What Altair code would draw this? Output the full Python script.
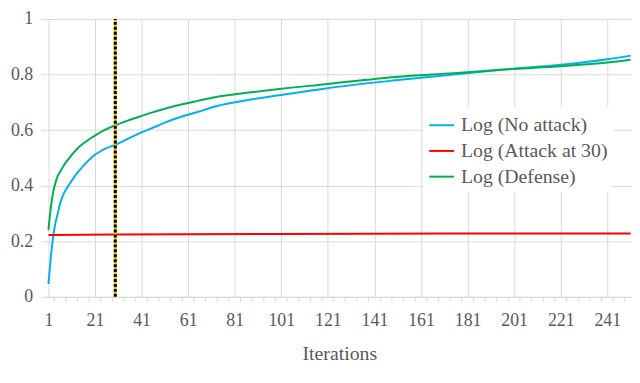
import altair as alt
import pandas as pd

# ---- data ----
series_names = ["Log (No attack)", "Log (Attack at 30)", "Log (Defense)"]
series_colors = ["#00B0F0", "#FF0000", "#00B050"]

iters_no_attack = [1, 2, 3, 4, 5, 6, 7, 8, 10, 12, 14, 17, 20, 23, 26, 30, 35, 40, 45, 51,
                   58, 65, 73, 86, 100, 120, 150, 175, 200, 221, 241, 251]
vals_no_attack = [0.046, 0.14, 0.215, 0.265, 0.30, 0.335, 0.36, 0.378, 0.405, 0.43, 0.452,
                  0.48, 0.505, 0.522, 0.535, 0.548, 0.568, 0.588, 0.605, 0.627,
                  0.648, 0.665, 0.686, 0.707, 0.725, 0.75, 0.779, 0.80, 0.82, 0.835, 0.855, 0.868]

iters_attack = [1, 30, 100, 175, 251]
vals_attack = [0.222, 0.224, 0.226, 0.228, 0.228]

iters_defense = [1, 2, 3, 4, 5, 6, 8, 10, 14, 17, 20, 25, 30, 35, 40, 45, 51, 58, 65, 73,
                 86, 100, 120, 150, 175, 200, 221, 241, 251]
vals_defense = [0.24, 0.32, 0.375, 0.41, 0.435, 0.45, 0.478, 0.50, 0.538, 0.558, 0.575,
                0.60, 0.618, 0.634, 0.648, 0.662, 0.677, 0.692, 0.705, 0.719,
                0.734, 0.748, 0.765, 0.791, 0.805, 0.82, 0.83, 0.843, 0.853]

grid_x = list(range(1, 252, 5))
tick_x = [v + 2.5 for v in grid_x[:-1]]
y_ticks = [0, 0.2, 0.4, 0.6, 0.8, 1]
attack_x = [29.7]

rows = []
for it, v in zip(iters_no_attack, vals_no_attack):
    rows.append({"iter": it, "val": v, "series": series_names[0]})
for it, v in zip(iters_attack, vals_attack):
    rows.append({"iter": it, "val": v, "series": series_names[1]})
for it, v in zip(iters_defense, vals_defense):
    rows.append({"iter": it, "val": v, "series": series_names[2]})
df = pd.DataFrame(rows)

W, H = 592, 281
FONT = "Liberation Serif"
GRID = "#d9d9d9"
TXT = "#595959"

x_scale = alt.Scale(domain=[0.2, 251.6], nice=False, zero=False)
y_scale = alt.Scale(domain=[0, 1], nice=False, zero=False)

label_expr = "(datum.value - 1) % 20 == 0 ? datum.label : ''"

lines = alt.Chart(df).mark_line(interpolate="monotone", strokeWidth=2, clip=True).encode(
    x=alt.X("iter:Q", scale=x_scale,
            axis=alt.Axis(values=grid_x, labelExpr=label_expr, labelOverlap=False,
                          labelFlush=False, ticks=False, tickSize=0, grid=True,
                          gridColor=GRID, domainColor=GRID, labelPadding=15,
                          labelFont=FONT, labelFontSize=18, labelColor=TXT,
                          title="Iterations", titleFont=FONT, titleFontSize=20,
                          titleFontWeight="normal", titleColor=TXT, titleY=63,
                          titleBaseline="alphabetic")),
    y=alt.Y("val:Q", scale=y_scale,
            axis=alt.Axis(values=y_ticks, format="~g", tickSize=6, tickColor=GRID,
                          domain=False, grid=True, gridColor=GRID, labelPadding=8,
                          labelFont=FONT, labelFontSize=18, labelColor=TXT,
                          title=None)),
    color=alt.Color("series:N",
                    scale=alt.Scale(domain=series_names, range=series_colors),
                    sort=series_names,
                    legend=alt.Legend(title=None, orient="none", legendX=381, legendY=89,
                                      fillColor="white", padding=5, symbolType="stroke",
                                      symbolSize=625, symbolStrokeWidth=2,
                                      labelFont=FONT, labelFontSize=20, labelColor=TXT,
                                      rowPadding=2, labelOffset=6, labelLimit=300)),
    detail="series:N",
)

ticks = alt.Chart(pd.DataFrame({"tx": tick_x})).mark_rule(color=GRID, strokeWidth=1).encode(
    x=alt.X("tx:Q", scale=x_scale),
    y=alt.value(H),
    y2=alt.value(H + 5),
)

vline_df = pd.DataFrame({"ax": attack_x})
vline_yellow = alt.Chart(vline_df).mark_rule(color="#F5C400", strokeWidth=3).encode(
    x=alt.X("ax:Q", scale=x_scale),
    y=alt.datum(0, scale=y_scale),
    y2=alt.datum(1),
)
vline_black = alt.Chart(vline_df).mark_rule(color="black", strokeWidth=3,
                                            strokeDash=[3, 2]).encode(
    x=alt.X("ax:Q", scale=x_scale),
    y=alt.datum(0, scale=y_scale),
    y2=alt.datum(1),
)

chart = alt.layer(ticks, lines, vline_yellow, vline_black).properties(
    width=W, height=H,
    autosize=alt.AutoSizeParams(type="none"),
    padding={"left": 39, "top": 9, "right": 0, "bottom": 75},
).configure(font=FONT).configure_view(stroke=None)

chart.save("out.html", embed_options={"renderer": "svg", "actions": False})
